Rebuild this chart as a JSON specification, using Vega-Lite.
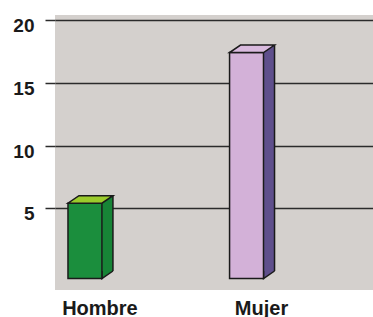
{
  "$schema": "https://vega.github.io/schema/vega-lite/v6.json",
  "width": 318,
  "height": 275,
  "autosize": {"type": "none"},
  "padding": {"left": 55, "top": 15, "right": 0, "bottom": 27},
  "background": "white",
  "config": {"view": {"fill": "#d4d0cd", "stroke": null}, "font": "Liberation Sans"},
  "data": {"values": [
    {"sexo": "Hombre", "valor": 6},
    {"sexo": "Mujer", "valor": 18}
  ]},
  "encoding": {
    "x": {
      "field": "sexo", "type": "nominal", "sort": null,
      "scale": {"paddingInner": 0.79, "paddingOuter": 0.379, "align": 0.106},
      "axis": {"title": null, "ticks": false, "domain": false, "labelAngle": 0, "labelFontSize": 20, "labelFontWeight": "bold", "labelColor": "#1a1a1a", "labelOffset": 15, "labelPadding": 8}
    },
    "y": {
      "field": "valor", "type": "quantitative",
      "scale": {"domain": [0, 20], "range": [256, 5]},
      "axis": {"title": null, "values": [5, 10, 15, 20], "grid": true, "gridColor": "#2b2b2b", "gridWidth": 1.5, "domain": false, "tickSize": 10, "tickColor": "#2b2b2b", "tickWidth": 1.5, "labelFontSize": 19, "labelFontWeight": "bold", "labelColor": "#1a1a1a", "labelPadding": 11, "labelOffset": 5.5}
    }
  },
  "layer": [
    {
      "mark": {"type": "bar", "width": 11, "xOffset": 22.5},
      "encoding": {"fill": {"field": "sexo", "type": "nominal", "scale": {"domain": ["Hombre", "Mujer"], "range": ["#178436", "#5f4f8c"]}, "legend": null}}
    },
    {
      "mark": {"type": "point", "shape": "M 11 0 L 0 7.5 L 0 0", "size": 4, "filled": true, "opacity": 1, "xOffset": 17, "stroke": "#1a1a1a", "strokeWidth": 1.5},
      "encoding": {
        "y": {"datum": 0},
        "fill": {"field": "sexo", "type": "nominal", "scale": {"domain": ["Hombre", "Mujer"], "range": ["#178436", "#5f4f8c"]}, "legend": null}
      }
    },
    {
      "mark": {"type": "rule", "xOffset": 28, "color": "#1a1a1a", "strokeWidth": 1.5},
      "encoding": {"y2": {"datum": 0}}
    },
    {
      "mark": {"type": "bar", "yOffset": 7.5, "y2Offset": 7.5, "stroke": "#1a1a1a", "strokeWidth": 1.5},
      "encoding": {"fill": {"field": "sexo", "type": "nominal", "scale": {"domain": ["Hombre", "Mujer"], "range": ["#1b8e3d", "#d3b1d8"]}, "legend": null}}
    },
    {
      "mark": {"type": "point", "shape": "M -17 0 L 17 0 L 28 -7.5 L -6 -7.5 Z", "size": 4, "filled": true, "opacity": 1, "yOffset": 7.5, "stroke": "#1a1a1a", "strokeWidth": 1.5},
      "encoding": {"fill": {"field": "sexo", "type": "nominal", "scale": {"domain": ["Hombre", "Mujer"], "range": ["#9bcb2c", "#d9bade"]}, "legend": null}}
    }
  ],
  "resolve": {"scale": {"fill": "independent"}}
}
